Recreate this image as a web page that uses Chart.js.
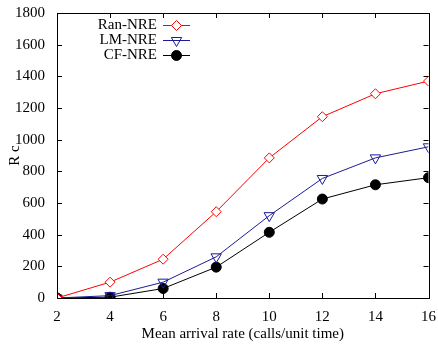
<!DOCTYPE html>
<html>
<head>
<meta charset="utf-8">
<script src="https://cdn.jsdelivr.net/npm/chart.js@4"></script>
<style>
  html, body { margin: 0; padding: 0; background: #fff; }
  #wrap { width: 438px; height: 347px; }
</style>
</head>
<body>
<div id="wrap"><canvas id="chart" width="438" height="347"></canvas></div>
<script>
const rates = [2, 4, 6, 8, 10, 12, 14, 16];
const ranNre = [0, 100, 245, 545, 885, 1145, 1290, 1370];
const lmNre = [0, 15, 100, 260, 520, 755, 885, 955];
const cfNre = [0, 5, 60, 195, 415, 625, 715, 760];
const xTicks = [2, 4, 6, 8, 10, 12, 14, 16];
const yTicks = [0, 200, 400, 600, 800, 1000, 1200, 1400, 1600, 1800];

const serif = "'Liberation Serif', 'DejaVu Serif', serif";

function pts(ys) {
  return rates.map((x, i) => ({ x: x, y: ys[i] }));
}

// inward ticks on all four sides, like gnuplot
const tickPlugin = {
  id: 'inTicks',
  afterDatasetsDraw(chart) {
    const ctx = chart.ctx;
    const a = chart.chartArea;
    const xs = chart.scales.x, ys = chart.scales.y;
    ctx.save();
    ctx.strokeStyle = '#000';
    ctx.lineWidth = 1;
    ctx.beginPath();
    xTicks.forEach(v => {
      const px = Math.round(xs.getPixelForValue(v)) + 0.5;
      ctx.moveTo(px, a.bottom); ctx.lineTo(px, a.bottom - 5);
      ctx.moveTo(px, a.top); ctx.lineTo(px, a.top + 5);
    });
    yTicks.forEach(v => {
      const py = Math.round(ys.getPixelForValue(v)) + 0.5;
      ctx.moveTo(a.left, py); ctx.lineTo(a.left + 5, py);
      ctx.moveTo(a.right, py); ctx.lineTo(a.right - 5, py);
    });
    ctx.stroke();
    ctx.strokeRect(Math.round(a.left) + 0.5, Math.round(a.top) + 0.5,
      Math.round(a.right - a.left), Math.round(a.bottom - a.top));
    ctx.restore();
  }
};

// legend with text on the left and sample on the right
const keyPlugin = {
  id: 'key',
  afterDatasetsDraw(chart) {
    const ctx = chart.ctx;
    ctx.save();
    ctx.font = "15px " + serif;
    ctx.textAlign = 'right';
    ctx.textBaseline = 'middle';
    chart.data.datasets.forEach((ds, i) => {
      const y = 25 + i * 15;
      ctx.fillStyle = '#000';
      ctx.fillText(ds.label, 157, y);
      ctx.strokeStyle = ds.borderColor;
      ctx.lineWidth = 1;
      ctx.beginPath();
      ctx.moveTo(163, y + 0.5); ctx.lineTo(190, y + 0.5);
      ctx.stroke();
      ctx.fillStyle = ds.pointBackgroundColor;
      ctx.strokeStyle = ds.pointBorderColor;
      Chart.helpers.drawPoint(ctx, {
        pointStyle: ds.pointStyle,
        radius: ds.pointRadius,
        rotation: ds.pointRotation || 0,
        borderWidth: 1
      }, 176.5, y + 0.5);
    });
    ctx.restore();
  }
};

new Chart(document.getElementById('chart'), {
  type: 'line',
  data: {
    datasets: [
      {
        label: 'Ran-NRE', data: pts(ranNre),
        borderColor: '#ff0000', borderWidth: 1,
        pointStyle: 'rectRot', pointRadius: 5,
        pointBackgroundColor: '#ffffff', pointBorderColor: '#ff0000', pointBorderWidth: 1
      },
      {
        label: 'LM-NRE', data: pts(lmNre),
        borderColor: '#1c1c96', borderWidth: 1,
        pointStyle: 'triangle', pointRotation: 180, pointRadius: 6,
        pointBackgroundColor: 'rgba(255,255,255,0)', pointBorderColor: '#1c1c96', pointBorderWidth: 1
      },
      {
        label: 'CF-NRE', data: pts(cfNre),
        borderColor: '#000000', borderWidth: 1,
        pointStyle: 'circle', pointRadius: 5,
        pointBackgroundColor: '#000000', pointBorderColor: '#000000', pointBorderWidth: 1
      }
    ]
  },
  options: {
    responsive: false,
    animation: false,
    layout: { padding: { top: 10, right: 9, left: 6, bottom: 0 } },
    plugins: { legend: { display: false }, tooltip: { enabled: false } },
    elements: { line: { tension: 0 } },
    scales: {
      x: {
        type: 'linear', min: 2, max: 16,
        afterBuildTicks: s => { s.ticks = xTicks.map(v => ({ value: v })); },
        afterFit: s => { s.height = 49; },
        grid: { display: false },
        border: { display: false },
        ticks: { color: '#000', font: { family: serif, size: 15 }, padding: 2, maxRotation: 0 },
        title: { display: true, text: 'Mean arrival rate (calls/unit time)', color: '#000',
          font: { family: serif, size: 15 }, padding: { top: 0, bottom: 4 } }
      },
      y: {
        min: 0, max: 1800,
        afterBuildTicks: s => { s.ticks = yTicks.map(v => ({ value: v })); },
        afterFit: s => { s.width = 51; },
        grid: { display: false },
        border: { display: false },
        ticks: { color: '#000', font: { family: serif, size: 15 }, padding: 4,
          callback: v => String(v) },
        title: { display: true, text: 'R c', color: '#000',
          font: { family: serif, size: 15 }, padding: 0 }
      }
    }
  },
  plugins: [tickPlugin, keyPlugin]
});
</script>
</body>
</html>
